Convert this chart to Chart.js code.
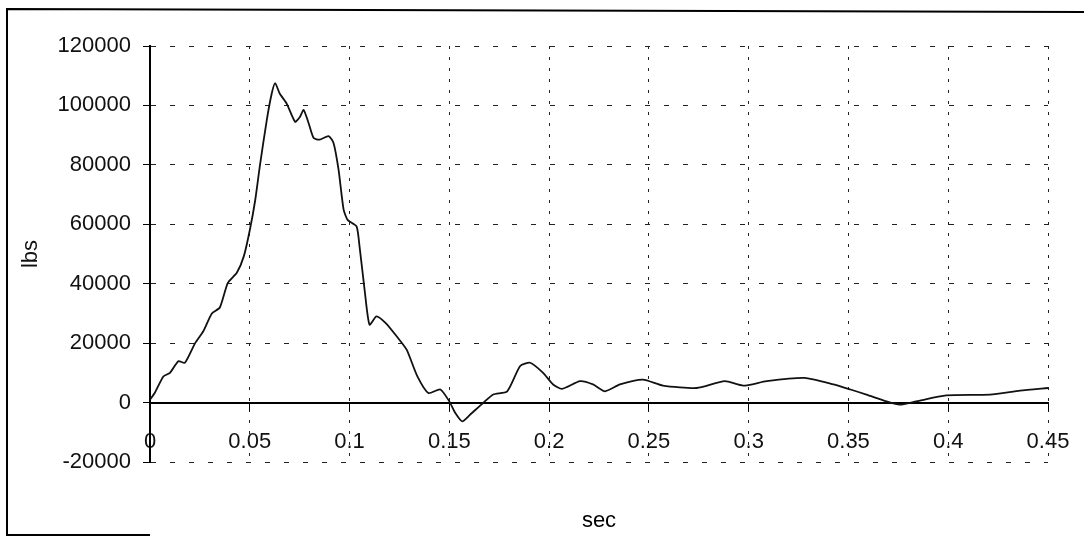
<!DOCTYPE html>
<html>
<head>
<meta charset="utf-8">
<script src="https://cdn.jsdelivr.net/npm/chart.js@4/dist/chart.umd.min.js"></script>
<style>
  html, body { margin: 0; padding: 0; background: #fff; }
  #wrap { width: 1084px; height: 537px; position: relative; }
</style>
</head>
<body>
<div id="wrap"><canvas id="chart"></canvas></div>
<script>
// time (sec) and load (lbs)
const timeSec = [0, 0.0025, 0.0067, 0.010, 0.0142, 0.0175, 0.0226, 0.0267, 0.031, 0.035,
    0.039, 0.0435, 0.047, 0.050, 0.0527, 0.055, 0.0585, 0.061, 0.0627, 0.065,
    0.0685, 0.0727, 0.075, 0.077, 0.0795, 0.082, 0.085, 0.0895, 0.092, 0.0945,
    0.097, 0.099, 0.1035, 0.105, 0.1077, 0.110, 0.1135, 0.118, 0.1236, 0.1286,
    0.134, 0.1395, 0.1455, 0.150, 0.153, 0.1565, 0.1605, 0.167, 0.172, 0.179,
    0.1855, 0.1905, 0.197, 0.202, 0.2065, 0.2155, 0.222, 0.228, 0.2355, 0.247,
    0.257, 0.274, 0.288, 0.2973, 0.309, 0.328, 0.3425, 0.351, 0.359, 0.369,
    0.3757, 0.384, 0.399, 0.421, 0.436, 0.45]
const loadLbs = [1000, 3400, 8800, 10000, 13900, 13400, 20000, 24000, 30000, 32000,
    40300, 43700, 49200, 58000, 68000, 79400, 95000, 104000, 107500, 104000,
    100600, 94500, 96000, 98500, 94000, 89000, 88500, 89700, 87300, 78300,
    65000, 61500, 59300, 52600, 37000, 26200, 29000, 26800, 22300, 17800,
    8800, 3200, 4400, 400, -3500, -6300, -4000, -100, 2700, 3800,
    12300, 13400, 10000, 6100, 4600, 7200, 6100, 3800, 6100, 7700,
    5700, 4900, 7200, 5700, 7200, 8300, 6100, 4400, 2700, 400,
    -700, 400, 2400, 2700, 4000, 4900]

const xMin = 0, xMax = 0.45, xStep = 0.05
const yMin = -20000, yMax = 120000, yStep = 20000
const xTitle = 'sec'
const yTitle = 'lbs'

const FONT = "'Liberation Sans', Arial, sans-serif"

// outer frame + x title under the plot
const decor = {
    id: 'decor',
    afterDraw(chart) {
        const ctx = chart.ctx
        const area = chart.chartArea
        ctx.save()
        ctx.strokeStyle = '#000'
        ctx.lineWidth = 2
        ctx.beginPath()
        ctx.moveTo(1084, 12)
        ctx.lineTo(7, 9)
        ctx.lineTo(7, 535)
        ctx.lineTo(150, 535)
        ctx.stroke()
        ctx.fillStyle = '#000'
        ctx.font = '22px ' + FONT
        ctx.textAlign = 'center'
        ctx.textBaseline = 'middle'
        ctx.fillText(xTitle, (area.left + area.right) / 2, 521)
        ctx.restore()
    }
}

const points = timeSec.map((t, i) => ({ x: t, y: loadLbs[i] }))

new Chart(document.getElementById('chart'), {
    type: 'line',
    data: {
        datasets: [{
            data: points,
            borderColor: '#111',
            borderWidth: 1.8,
            pointRadius: 0,
            tension: 0.2,
            fill: false
        }]
    },
    options: {
        responsive: true,
        maintainAspectRatio: false,
        animation: false,
        layout: { padding: { top: 46, right: 36, bottom: 75, left: 0 } },
        plugins: { legend: { display: false }, tooltip: { enabled: false } },
        scales: {
            x: {
                type: 'linear',
                min: xMin,
                max: xMax,
                position: { y: 0 },
                afterFit: s => { s.height = 0; s.paddingRight = 0; s.paddingLeft = 0 },
                grid: { color: '#222', lineWidth: 1, tickLength: 7, tickColor: '#000', tickBorderDash: [] },
                border: { display: true, color: '#000', width: 2, dash: [3, 8] },
                ticks: {
                    stepSize: xStep,
                    padding: 19,
                    color: '#111',
                    font: { family: FONT, size: 22 },
                    maxRotation: 0,
                    callback: v => Number(v.toFixed(2)).toString()
                }
            },
            y: {
                min: yMin,
                max: yMax,
                afterFit: s => { s.width = 150 },
                grid: { color: '#222', lineWidth: 1, tickLength: 7, tickColor: '#000', tickBorderDash: [] },
                border: { display: true, color: '#000', width: 2, dash: [5, 14] },
                title: { display: true, text: yTitle, color: '#111', font: { family: FONT, size: 22 }, padding: { top: 18, bottom: 0 } },
                ticks: {
                    stepSize: yStep,
                    padding: 12,
                    color: '#111',
                    font: { family: FONT, size: 22 },
                    callback: v => String(v)
                }
            }
        }
    },
    plugins: [decor]
})
</script>
</body>
</html>
